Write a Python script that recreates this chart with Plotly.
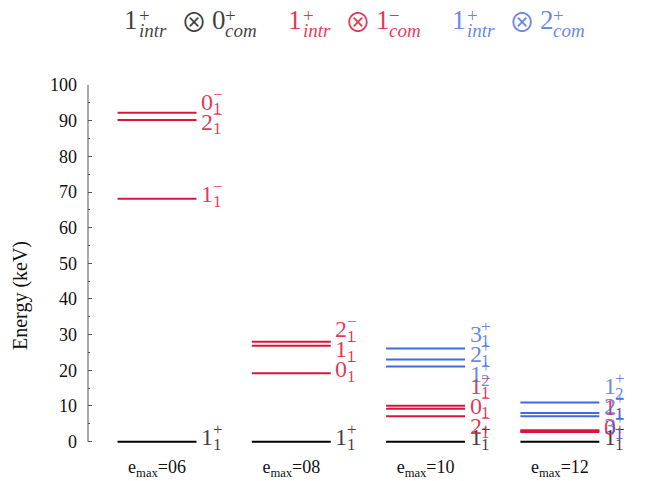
import plotly.graph_objects as go

# ---- data -------------------------------------------------------------
emax_tags = ["06", "08", "10", "12"]

# 1+_intr (x) 0+_com band
ground_col = [0, 1, 2, 3]
ground_energy = [0.0, 0.0, 0.0, 0.0]
ground_spin = [1, 1, 1, 1]
ground_index = [1, 1, 1, 1]

# 1+_intr (x) 1-_com band
dipole_col = [0, 0, 0, 1, 1, 1, 2, 2, 2, 3, 3, 3]
dipole_energy = [92.2, 90.2, 68.1, 28.0, 26.9, 19.2, 10.1, 9.2, 7.1, 3.2, 2.9, 2.7]
dipole_spin = [0, 2, 1, 2, 1, 0, 1, 0, 2, 1, 0, 2]
dipole_index = [1, 1, 1, 1, 1, 1, 1, 1, 1, 1, 1, 1]

# 1+_intr (x) 2+_com band
quad_col = [2, 2, 2, 3, 3, 3]
quad_energy = [26.1, 23.0, 21.1, 11.0, 8.0, 7.1]
quad_spin = [3, 2, 1, 1, 2, 3]
quad_index = [1, 1, 2, 2, 1, 1]

MINUS = "\u2212"
bands = [
    dict(col=ground_col, e=ground_energy, j=ground_spin, n=ground_index, parity="+",
         line="#000000", text="rgba(0,0,0,0.75)", com="0", com_par="+"),
    dict(col=dipole_col, e=dipole_energy, j=dipole_spin, n=dipole_index, parity=MINUS,
         line="#dc143c", text="rgba(220,20,60,0.85)", com="1", com_par=MINUS),
    dict(col=quad_col, e=quad_energy, j=quad_spin, n=quad_index, parity="+",
         line="#4169e1", text="rgba(65,105,225,0.8)", com="2", com_par="+"),
]

# ---- geometry ---------------------------------------------------------
W, H = 646, 481
ML, MR, MT, MB = 88, 19, 85, 34
HALF = 0.294          # half width of a level bar (x units)
LABEL_GAP = 5.6       # minimum vertical spacing of level labels (keV)
FONT = "Liberation Serif, DejaVu Serif, serif"
OTIMES_FONT = "Noto Sans CJK JP, DejaVu Sans, sans-serif"


def spread_positions(values, gap):
    """Push label positions apart (isotonic pooling) keeping them near their levels."""
    order = sorted(range(len(values)), key=lambda i: values[i])
    blocks = []
    for k, i in enumerate(order):
        blocks.append([values[i] - k * gap, 1])
        while len(blocks) > 1 and blocks[-2][0] / blocks[-2][1] > blocks[-1][0] / blocks[-1][1]:
            s, c = blocks.pop()
            blocks[-1][0] += s
            blocks[-1][1] += c
    fitted = []
    for s, c in blocks:
        fitted += [s / c] * c
    out = [0.0] * len(values)
    for k, i in enumerate(order):
        out[i] = fitted[k] + k * gap
    return out


fig = go.Figure()
annotations = []


def add_text(text, x, y, size, color, xshift=0, yshift=0, xref="x", yref="y", family=FONT):
    annotations.append(dict(
        text=text, x=x, y=y, xref=xref, yref=yref, xanchor="left", yanchor="middle",
        xshift=xshift, yshift=yshift, showarrow=False,
        font=dict(family=family, size=size, color=color), borderpad=0,
    ))


for b in bands:
    xs, ys = [], []
    for c, e in zip(b["col"], b["e"]):
        xs += [c - HALF, c + HALF, None]
        ys += [e, e, None]
    fig.add_trace(go.Scatter(x=xs, y=ys, mode="lines", line=dict(color=b["line"], width=2),
                             hoverinfo="skip", showlegend=False))

    # level labels J^pi_n, spread apart within each column
    for c in sorted(set(b["col"])):
        idx = [i for i, cc in enumerate(b["col"]) if cc == c]
        pos = spread_positions([b["e"][i] for i in idx], LABEL_GAP)
        for i, p in zip(idx, pos):
            add_text(str(b["j"][i]), c + HALF, p, 24, b["text"], xshift=3.5, yshift=4.5)
            add_text(b["parity"], c + HALF, p, 17, b["text"], xshift=15, yshift=12)
            add_text(str(b["n"][i]), c + HALF, p, 17, b["text"], xshift=15, yshift=-2.5)

# legend row: 1+_intr (x) J+_com
for k, b in enumerate(bands):
    x0 = 123 + 164 * k - ML
    top = MT
    add_text("1", 0, 1, 27, b["text"], xshift=x0, yshift=top - 20, xref="paper", yref="paper")
    add_text("+", 0, 1, 19, b["text"], xshift=x0 + 15, yshift=top - 15, xref="paper", yref="paper")
    add_text("<i>intr</i>", 0, 1, 19, b["text"], xshift=x0 + 15, yshift=top - 30,
             xref="paper", yref="paper")
    add_text("\u2297", 0, 1, 26, b["text"], xshift=x0 + 57, yshift=top - 20, xref="paper",
             yref="paper", family=OTIMES_FONT)
    add_text(b["com"], 0, 1, 27, b["text"], xshift=x0 + 88, yshift=top - 20, xref="paper", yref="paper")
    add_text(b["com_par"], 0, 1, 19, b["text"], xshift=x0 + 101, yshift=top - 15,
             xref="paper", yref="paper")
    add_text("<i>com</i>", 0, 1, 19, b["text"], xshift=x0 + 101, yshift=top - 30,
             xref="paper", yref="paper")

# y-axis title
annotations.append(dict(
    text="Energy (keV)", textangle=-90, xref="paper", yref="paper", x=0, y=(H - MB - 296) / (H - MT - MB),
    xshift=20 - ML, xanchor="center", yanchor="middle", showarrow=False,
    font=dict(family=FONT, size=20, color="#111111"),
))

fig.update_layout(
    width=W, height=H, margin=dict(l=ML, r=MR, t=MT, b=MB),
    paper_bgcolor="white", plot_bgcolor="white",
    annotations=annotations,
    shapes=[dict(type="line", xref="paper", yref="y", x0=0, x1=0, y0=0, y1=100,
                 line=dict(color="#555555", width=1))],
    xaxis=dict(range=[-0.514, 3.5], tickvals=[0, 1, 2, 3],
               ticktext=[f"e<sub>max</sub>={t}" for t in emax_tags],
               showgrid=False, zeroline=False, showline=False, ticks="", automargin=False,
               tickfont=dict(family=FONT, size=18, color="#111111"), ticklabelstandoff=7),
    yaxis=dict(range=[-1.5, 100], tickvals=list(range(0, 101, 10)),
               showgrid=False, zeroline=False, showline=False, automargin=False,
               ticks="inside", ticklen=4, tickwidth=1, tickcolor="#555555",
               minor=dict(dtick=5, ticks="inside", ticklen=2, tickcolor="#555555", showgrid=False),
               tickfont=dict(family=FONT, size=18, color="#111111"), ticklabelstandoff=10),
    showlegend=False,
)

fig.write_html("out.html")
